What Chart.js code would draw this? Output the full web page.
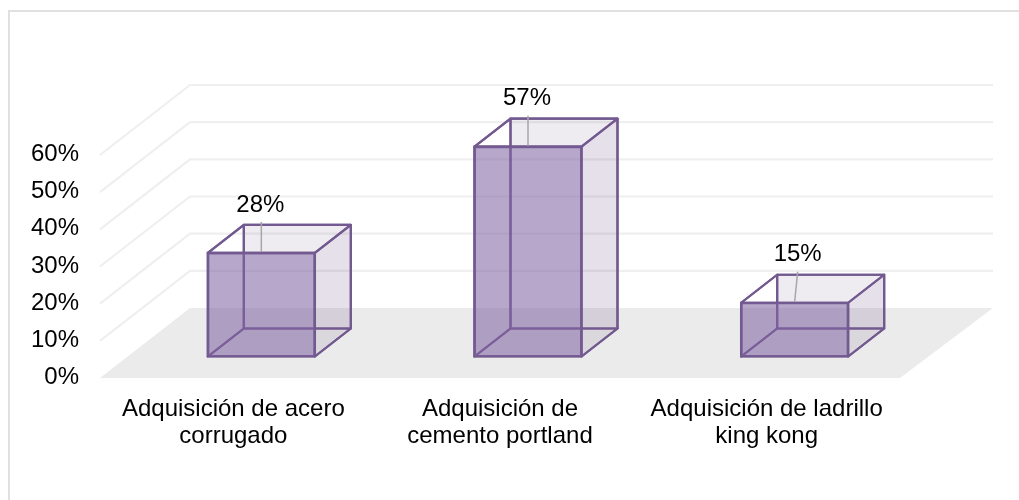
<!DOCTYPE html>
<html>
<head>
<meta charset="utf-8">
<style>html,body{margin:0;padding:0;background:#fff}canvas{display:block}</style>
<script src="https://cdn.jsdelivr.net/npm/chart.js@4"></script>
</head>
<body>
<canvas id="c" width="1019" height="500"></canvas>
<script>
const categories = [["Adquisición de acero","corrugado"],["Adquisición de","cemento portland"],["Adquisición de ladrillo","king kong"]];
const values = [28.4, 57, 15];
const axisMax = 60;
const axisStep = 10;

const FONT = '"Liberation Sans", Arial, sans-serif';
const WALL = {dxL: 90, dxR: 93, dy: 70};
const BAR_SHIFT = {dx: 28, dy: 20.5};
const BAR_DEPTH = {dx: 36, dy: 28};
const LABEL_SHIFT = [{x: -1, lean: 0}, {x: -1, lean: 0}, {x: 3, lean: 3}];
const EDGE = '#72598f';

function poly(ctx, pts, fill, stroke) {
  ctx.beginPath();
  pts.forEach((p, i) => i ? ctx.lineTo(p[0], p[1]) : ctx.moveTo(p[0], p[1]));
  ctx.closePath();
  if (fill) { ctx.fillStyle = fill; ctx.fill(); }
  if (stroke) { ctx.strokeStyle = stroke; ctx.lineWidth = 2.2; ctx.lineJoin = 'round'; ctx.stroke(); }
}

const scene = {
  id: 'scene',
  beforeDatasetsDraw(chart) {
    const {ctx, scales: {x, y}} = chart;
    const L = x.left, R = x.right, B = y.getPixelForValue(0);
    ctx.save();
    // frame
    ctx.fillStyle = '#e0e0e0';
    ctx.fillRect(8, 10, 2, chart.height - 10);
    ctx.fillRect(8, 10, chart.width - 8, 2);
    // floor
    poly(ctx, [[L, B], [R, B], [R + WALL.dxR, B - WALL.dy], [L + WALL.dxL, B - WALL.dy]], '#ebebeb');
    // wall lines
    ctx.strokeStyle = '#efefef';
    ctx.lineWidth = 2.2;
    y.ticks.forEach(t => {
      if (t.value === 0) return;
      const py = y.getPixelForValue(t.value);
      ctx.beginPath();
      ctx.moveTo(L, py);
      ctx.lineTo(L + WALL.dxL, py - WALL.dy);
      ctx.lineTo(R + WALL.dxR, py - WALL.dy);
      ctx.stroke();
    });
    // translucent cube faces behind the front face
    chart.getDatasetMeta(0).data.forEach(bar => {
      const l = bar.x - bar.width / 2 + BAR_SHIFT.dx + 1, r = bar.x + bar.width / 2 + BAR_SHIFT.dx - 1;
      const t = bar.y - BAR_SHIFT.dy + 1, b = bar.base - BAR_SHIFT.dy - 1;
      const dx = BAR_DEPTH.dx, dy = BAR_DEPTH.dy;
      // face fills stay outside the front face so that it reads as one even tint
      ctx.save();
      ctx.beginPath();
      ctx.rect(0, 0, chart.width, chart.height);
      ctx.rect(l, t, r - l, b - t);
      ctx.clip('evenodd');
      poly(ctx, [[l + dx, t - dy], [r + dx, t - dy], [r + dx, b - dy], [l + dx, b - dy]], 'rgba(96,73,122,0.10)');
      poly(ctx, [[r, t], [r + dx, t - dy], [r + dx, b - dy], [r, b]], 'rgba(96,73,122,0.07)');
      poly(ctx, [[l, b], [r, b], [r + dx, b - dy], [l + dx, b - dy]], 'rgba(96,73,122,0.05)');
      ctx.restore();
      [[[l + dx, t - dy], [r + dx, t - dy], [r + dx, b - dy], [l + dx, b - dy]],
       [[l, b], [r, b], [r + dx, b - dy], [l + dx, b - dy]],
       [[r, t], [r + dx, t - dy], [r + dx, b - dy], [r, b]],
       [[l, t], [r, t], [r + dx, t - dy], [l + dx, t - dy]],
       [[l, t], [l + dx, t - dy], [l + dx, b - dy], [l, b]]].forEach(f => poly(ctx, f, null, EDGE));
    });
    ctx.restore();
    ctx.save();
    ctx.translate(BAR_SHIFT.dx, -BAR_SHIFT.dy);
  },
  afterDatasetsDraw(chart) {
    const {ctx} = chart;
    ctx.restore();
    ctx.save();
    ctx.font = '24px ' + FONT;
    ctx.textAlign = 'center';
    ctx.textBaseline = 'middle';
    chart.getDatasetMeta(0).data.forEach((bar, i) => {
      const cx = bar.x + BAR_SHIFT.dx, t = bar.y - BAR_SHIFT.dy;
      const s = LABEL_SHIFT[i];
      ctx.strokeStyle = '#a6a6a6';
      ctx.lineWidth = 1.5;
      ctx.beginPath();
      ctx.moveTo(cx, t);
      ctx.lineTo(cx + s.lean, t - 30);
      ctx.stroke();
      ctx.fillStyle = '#000';
      ctx.fillText(Math.round(values[i]) + '%', cx + s.x, t - 47);
    });
    ctx.restore();
  }
};

new Chart(document.getElementById('c'), {
  type: 'bar',
  data: {
    labels: categories,
    datasets: [{
      data: values,
      backgroundColor: 'rgba(128,100,162,0.567)',
      borderColor: EDGE,
      borderWidth: 2.2,
      borderSkipped: false,
      barThickness: 109
    }]
  },
  plugins: [scene],
  options: {
    responsive: false,
    animation: false,
    layout: {padding: {top: 155, right: 119, left: 0, bottom: 0}},
    plugins: {legend: {display: false}, tooltip: {enabled: false}},
    scales: {
      x: {
        grid: {display: false, drawTicks: false},
        border: {display: false},
        afterFit(s) { s.height = 122; },
        ticks: {
          color: '#000', autoSkip: false, maxRotation: 0, minRotation: 0, padding: 17,
          font: {family: FONT, size: 24, lineHeight: 1.16}
        }
      },
      y: {
        min: 0, max: axisMax,
        grid: {display: false, drawTicks: false},
        border: {display: false},
        afterFit(s) { s.width = 100; },
        ticks: {
          stepSize: axisStep, color: '#000', padding: 21, labelOffset: -0.5,
          font: {family: FONT, size: 24},
          callback: v => v + '%'
        }
      }
    }
  }
});
</script>
</body>
</html>
